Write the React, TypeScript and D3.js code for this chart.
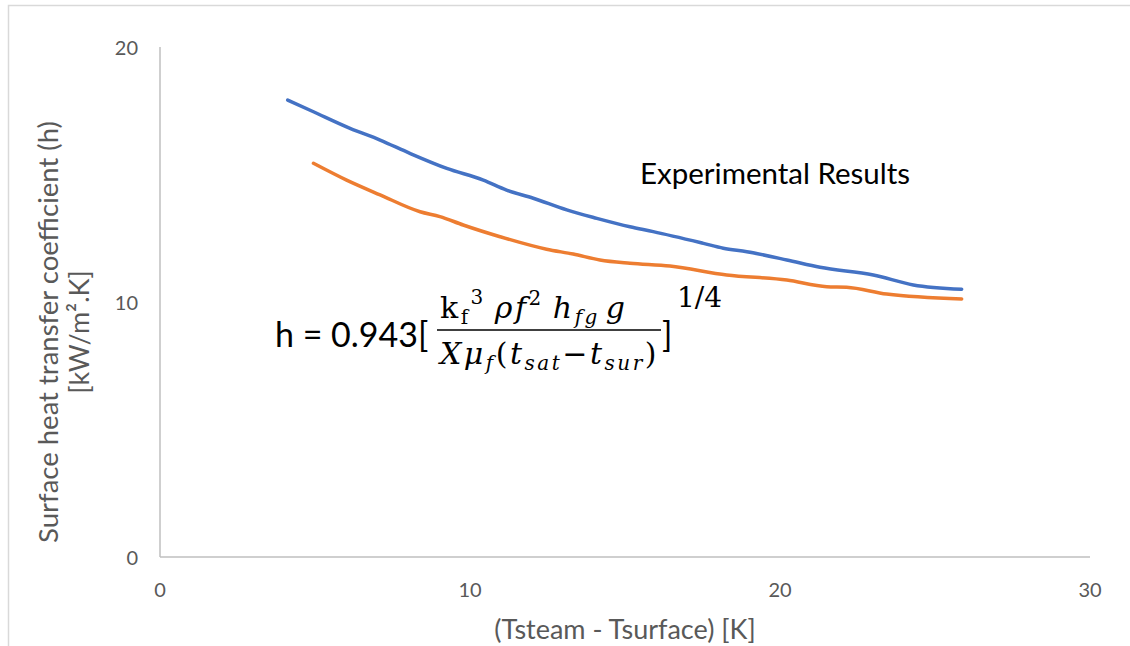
import React from "react";
import * as d3 from "d3";

const xTicks = [0, 10, 20, 30];
const yTicks = [0, 10, 20];

const experimentalX = [4.12, 4.95, 6.13, 7.1, 8.06, 9.25, 10.43, 11.18, 12.04, 13.12, 14.09, 15.16, 15.91, 17.53, 18.17, 18.93, 20.22, 21.29, 23.01, 24.3, 25.86];
const experimentalY = [17.92, 17.46, 16.81, 16.35, 15.83, 15.24, 14.78, 14.39, 14.07, 13.61, 13.28, 12.95, 12.76, 12.3, 12.11, 11.97, 11.65, 11.36, 11.06, 10.67, 10.5];

const theoryX = [4.95, 6.02, 7.1, 8.39, 9.03, 9.78, 10.97, 12.47, 13.33, 14.19, 15.16, 16.45, 18.28, 20.22, 21.51, 22.15, 23.44, 25.86];
const theoryY = [15.44, 14.78, 14.2, 13.54, 13.35, 13.02, 12.56, 12.07, 11.88, 11.65, 11.52, 11.41, 11.06, 10.86, 10.6, 10.58, 10.31, 10.12];

const xTitle = "(Tsteam - Tsurface) [K]";
const yTitle1 = "Surface heat transfer coefficient (h)";
const yTitle2 = "[kW/m².K]";
const annotation = "Experimental Results";

export default function App() {
  const W = 1130, H = 646;
  const x = d3.scaleLinear().domain([0, 30]).range([160, 1090]);
  const y = d3.scaleLinear().domain([0, 20]).range([557, 47]);
  const line = d3.line<[number, number]>().x(d => x(d[0])).y(d => y(d[1])).curve(d3.curveMonotoneX);
  const exp = experimentalX.map((v, i) => [v, experimentalY[i]] as [number, number]);
  const th = theoryX.map((v, i) => [v, theoryY[i]] as [number, number]);
  const sans = "Lato, 'Open Sans', sans-serif";
  const serif = "'DejaVu Serif', 'Liberation Serif', serif";
  return (
    <svg width={W} height={H} style={{ position: "absolute", left: 0, top: 0, background: "#fff" }}>
      <rect x={8.5} y={5.5} width={1200} height={700} fill="#fff" stroke="#D9D9D9" strokeWidth={1.5} />
      <line x1={x(0)} x2={x(0)} y1={y(20)} y2={y(0)} stroke="#BFBFBF" strokeWidth={1.5} />
      <line x1={x(0)} x2={x(30)} y1={y(0)} y2={y(0)} stroke="#BFBFBF" strokeWidth={1.5} />
      {yTicks.map(t => (
        <text key={"y" + t} x={138} y={y(t)} textAnchor="end" dominantBaseline="central" fontFamily={sans} fontSize={20} fill="#595959">{t}</text>
      ))}
      {xTicks.map(t => (
        <text key={"x" + t} x={x(t)} y={589} textAnchor="middle" dominantBaseline="central" fontFamily={sans} fontSize={20} fill="#595959">{t}</text>
      ))}
      <text x={625} y={628} textAnchor="middle" dominantBaseline="central" fontFamily={sans} fontSize={27} fill="#595959">{xTitle}</text>
      <g transform="translate(47,332) rotate(-90)">
        <text x={0} y={0} textAnchor="middle" dominantBaseline="central" fontFamily={sans} fontSize={27.5} fill="#595959">{yTitle1}</text>
        <text x={0} y={31} textAnchor="middle" dominantBaseline="central" fontFamily={sans} fontSize={27} fill="#595959">{yTitle2}</text>
      </g>
      <path d={line(exp) || ""} fill="none" stroke="#4472C4" strokeWidth={3.5} strokeLinecap="round" />
      <path d={line(th) || ""} fill="none" stroke="#ED7D31" strokeWidth={3.5} strokeLinecap="round" />
      <text x={640} y={172} dominantBaseline="central" fontFamily={sans} fontSize={29.5} fill="#000">{annotation}</text>
      {/* formula */}
      <text x={275} y={347} fontFamily={sans} fontSize={34} fill="#000">h = 0.943[</text>
      <text x={440} y={318} fontFamily={serif} fontSize={30} fill="#000" letterSpacing={2.5}>
        <tspan>k</tspan>
        <tspan fontSize={20} dy={6}>f</tspan>
        <tspan fontSize={20} dy={-20}>3</tspan>
        <tspan fontStyle="italic" dy={14} dx={9}>ρf</tspan>
        <tspan fontSize={20} dy={-13}>2</tspan>
        <tspan fontStyle="italic" dy={13} dx={9}>h</tspan>
        <tspan fontStyle="italic" fontSize={20} dy={6}>fg</tspan>
        <tspan fontStyle="italic" dy={-6} dx={6}>g</tspan>
      </text>
      <line x1={437} x2={661} y1={330} y2={330} stroke="#000" strokeWidth={1.5} />
      <text x={440} y={364} fontFamily={serif} fontSize={30} fill="#000" letterSpacing={2.5}>
        <tspan fontStyle="italic">Xμ</tspan>
        <tspan fontStyle="italic" fontSize={20} dy={6}>f</tspan>
        <tspan dy={-6}>(</tspan>
        <tspan fontStyle="italic">t</tspan>
        <tspan fontStyle="italic" fontSize={20} dy={6}>sat</tspan>
        <tspan dy={-6}>−</tspan>
        <tspan fontStyle="italic">t</tspan>
        <tspan fontStyle="italic" fontSize={20} dy={6}>sur</tspan>
        <tspan dy={-6}>)</tspan>
      </text>
      <text x={662} y={347} fontFamily={sans} fontSize={34} fill="#000">]</text>
      <text x={677} y={307} fontFamily={serif} fontSize={28} fill="#000">1/4</text>
    </svg>
  );
}
